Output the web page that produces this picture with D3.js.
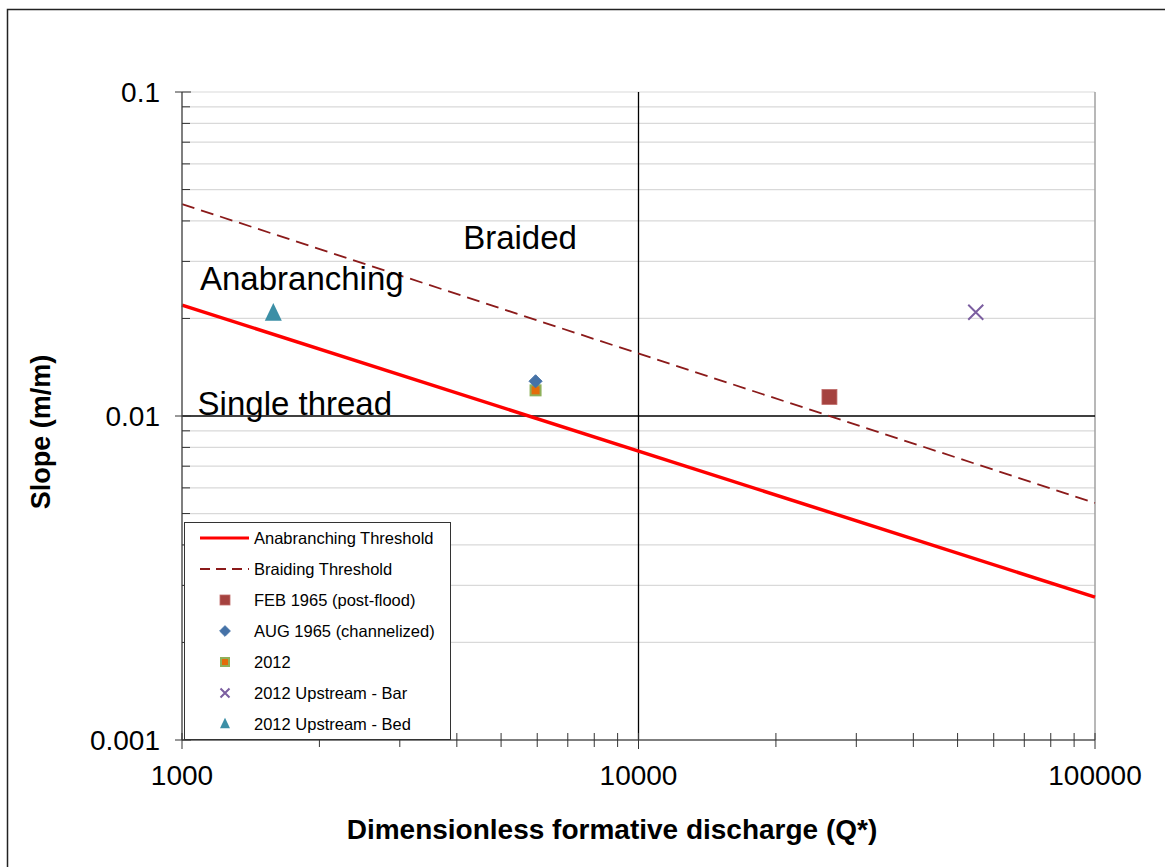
<!DOCTYPE html>
<html><head><meta charset="utf-8">
<script src="https://cdn.jsdelivr.net/npm/d3@7"></script>
<style>body{margin:0;background:#fff;} text{font-family:Arial,"Liberation Sans",sans-serif;}</style>
</head><body>
<svg id="c" width="1165" height="867"></svg>
<script>
// ---- data ----
const xDomain = [1000, 100000];
const yDomain = [0.001, 0.1];
const xTickLabels = ["1000", "10000", "100000"];
const yTickLabels = ["0.001", "0.01", "0.1"];
const anabranchingThreshold = [[1000, 0.0220], [100000, 0.00276]];
const braidingThreshold = [[1000, 0.0451], [100000, 0.00539]];
const feb1965 = [[26200, 0.01145]];
const aug1965 = [[5950, 0.0128]];
const pts2012 = [[5950, 0.0120]];
const upstreamBar = [[54800, 0.0209]];
const upstreamBed = [[1585, 0.0207]];
const annotations = [
  {text: "Braided", x: 4130, y: 0.0328},
  {text: "Anabranching", x: 1095, y: 0.0245},
  {text: "Single thread", x: 1082, y: 0.0101}
];
const legendLabels = ["Anabranching Threshold", "Braiding Threshold", "FEB 1965 (post-flood)",
  "AUG 1965 (channelized)", "2012", "2012 Upstream - Bar", "2012 Upstream - Bed"];

// ---- setup ----
const svg = d3.select("#c");
const L = 182, R = 1095, T = 92, B = 740;
const x = d3.scaleLog().domain(xDomain).range([L, R]);
const y = d3.scaleLog().domain(yDomain).range([B, T]);

// outer border
svg.append("rect").attr("x", 7.5).attr("y", 9.5).attr("width", 1170).attr("height", 880)
  .attr("fill", "none").attr("stroke", "#222").attr("stroke-width", 1.5);

// minor horizontal gridlines
const yMinor = [];
[0.001, 0.01].forEach(b => { for (let k = 2; k <= 9; k++) yMinor.push(b * k); });
svg.append("g").selectAll("line").data(yMinor.concat([0.1])).join("line")
  .attr("x1", L).attr("x2", R).attr("y1", d => y(d)).attr("y2", d => y(d))
  .attr("stroke", "#d9d9d9").attr("stroke-width", 1.2);
// right border
svg.append("line").attr("x1", R).attr("x2", R).attr("y1", T).attr("y2", B)
  .attr("stroke", "#a0a0a0").attr("stroke-width", 1.5);

// major lines (black)
svg.append("line").attr("x1", L).attr("x2", R).attr("y1", y(0.01)).attr("y2", y(0.01))
  .attr("stroke", "#000").attr("stroke-width", 1.3);
svg.append("line").attr("x1", x(10000)).attr("x2", x(10000)).attr("y1", T).attr("y2", B)
  .attr("stroke", "#000").attr("stroke-width", 1.3);

// threshold lines
const line = d3.line().x(d => x(d[0])).y(d => y(d[1]));
svg.append("path").datum(braidingThreshold).attr("d", line).attr("fill", "none")
  .attr("stroke", "#8b1a1a").attr("stroke-width", 1.8).attr("stroke-dasharray", "13,7");
svg.append("path").datum(anabranchingThreshold).attr("d", line).attr("fill", "none")
  .attr("stroke", "#ff0000").attr("stroke-width", 3.5);

// axes lines
svg.append("line").attr("x1", L).attr("x2", L).attr("y1", T).attr("y2", B).attr("stroke", "#555").attr("stroke-width", 1.5);
svg.append("line").attr("x1", L).attr("x2", R).attr("y1", B).attr("y2", B).attr("stroke", "#555").attr("stroke-width", 1.5);
// y ticks
svg.append("g").selectAll("line").data(yMinor).join("line")
  .attr("x1", L).attr("x2", L + 8).attr("y1", d => y(d)).attr("y2", d => y(d)).attr("stroke", "#333");
svg.append("g").selectAll("line").data([0.001, 0.01, 0.1]).join("line")
  .attr("x1", L - 7).attr("x2", L + 9).attr("y1", d => y(d)).attr("y2", d => y(d)).attr("stroke", "#333");
svg.append("g").selectAll("text").data([0.001, 0.01, 0.1]).join("text")
  .attr("x", 160).attr("y", d => y(d) + 10).attr("text-anchor", "end")
  .attr("font-size", 28).attr("fill", "#000").text((d, i) => yTickLabels[i]);
// x ticks
const xMinor = [];
[1000, 10000].forEach(b => { for (let k = 2; k <= 9; k++) xMinor.push(b * k); });
svg.append("g").selectAll("line").data(xMinor).join("line")
  .attr("x1", d => x(d)).attr("x2", d => x(d)).attr("y1", B - 7).attr("y2", B + 7).attr("stroke", "#333");
svg.append("g").selectAll("line").data([1000, 10000, 100000]).join("line")
  .attr("x1", d => x(d)).attr("x2", d => x(d)).attr("y1", B - 7).attr("y2", B + 9).attr("stroke", "#333");
svg.append("g").selectAll("text").data([1000, 10000, 100000]).join("text")
  .attr("x", d => x(d)).attr("y", 785).attr("text-anchor", "middle")
  .attr("font-size", 28).attr("fill", "#000").text((d, i) => xTickLabels[i]);

// axis titles
svg.append("text").attr("transform", "translate(50,432) rotate(-90)").attr("text-anchor", "middle")
  .attr("font-size", 27).attr("font-weight", "bold").text("Slope (m/m)");
svg.append("text").attr("x", 612).attr("y", 839).attr("text-anchor", "middle")
  .attr("font-size", 28).attr("font-weight", "bold").text("Dimensionless formative discharge (Q*)");

// annotations
svg.append("g").selectAll("text").data(annotations).join("text")
  .attr("x", d => x(d.x)).attr("y", d => y(d.y)).attr("font-size", 33).attr("fill", "#000").text(d => d.text);

// markers
function drawMarker(g, type, cx, cy, s) {
  if (type === "sqFeb") g.append("rect").attr("x", cx - s / 2).attr("y", cy - s / 2).attr("width", s).attr("height", s)
    .attr("fill", "#a5423f").attr("stroke", "#c06c6a").attr("stroke-width", 0.8);
  if (type === "diamond") g.append("path").attr("d", d3.symbol(d3.symbolDiamond2, s * s * 0.9)()).attr("transform", `translate(${cx},${cy})`)
    .attr("fill", "#4572a7").attr("stroke", "#4572a7").attr("stroke-linejoin", "round");
  if (type === "sq2012") g.append("rect").attr("x", cx - s / 2).attr("y", cy - s / 2).attr("width", s).attr("height", s)
    .attr("fill", "#e46c0a").attr("stroke", "#8fb05a").attr("stroke-width", 2);
  if (type === "cross") g.append("path").attr("d", `M${cx - s / 2},${cy - s / 2}L${cx + s / 2},${cy + s / 2}M${cx - s / 2},${cy + s / 2}L${cx + s / 2},${cy - s / 2}`)
    .attr("stroke", "#7b5ea0").attr("stroke-width", 2);
  if (type === "tri") g.append("path").attr("d", `M${cx},${cy - s * 0.62}L${cx + s / 2},${cy + s * 0.42}L${cx - s / 2},${cy + s * 0.42}Z`)
    .attr("fill", "#3c8fa6");
}
const mg = svg.append("g");
feb1965.forEach(d => drawMarker(mg, "sqFeb", x(d[0]), y(d[1]), 15));
pts2012.forEach(d => drawMarker(mg, "sq2012", x(d[0]), y(d[1]), 10));
aug1965.forEach(d => drawMarker(mg, "diamond", x(d[0]), y(d[1]), 11));
upstreamBar.forEach(d => drawMarker(mg, "cross", x(d[0]), y(d[1]), 15));
upstreamBed.forEach(d => drawMarker(mg, "tri", x(d[0]), y(d[1]), 17));

// legend
const lg = svg.append("g");
lg.append("rect").attr("x", 184.5).attr("y", 522.5).attr("width", 266).attr("height", 217)
  .attr("fill", "#fff").attr("stroke", "#333").attr("stroke-width", 1);
const rowY = i => 538 + i * 31;
lg.append("line").attr("x1", 200).attr("x2", 249).attr("y1", rowY(0)).attr("y2", rowY(0)).attr("stroke", "#ff0000").attr("stroke-width", 3);
lg.append("line").attr("x1", 200).attr("x2", 249).attr("y1", rowY(1)).attr("y2", rowY(1)).attr("stroke", "#8b1a1a").attr("stroke-width", 1.8).attr("stroke-dasharray", "10,6");
drawMarker(lg, "sqFeb", 225, rowY(2), 10);
drawMarker(lg, "diamond", 225, rowY(3), 9);
drawMarker(lg, "sq2012", 225, rowY(4), 8);
drawMarker(lg, "cross", 225, rowY(5), 9);
drawMarker(lg, "tri", 225, rowY(6), 10);
lg.selectAll("text").data(legendLabels).join("text")
  .attr("x", 254).attr("y", (d, i) => rowY(i) + 6).attr("font-size", 16.5).attr("fill", "#000").text(d => d);
</script>
</body></html>
